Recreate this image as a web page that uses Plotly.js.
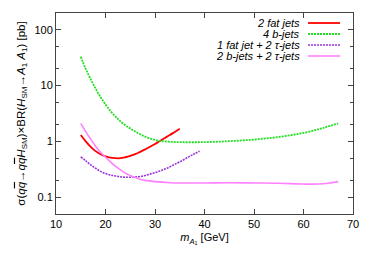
<!DOCTYPE html>
<html><head><meta charset="utf-8">
<script src="https://cdn.plot.ly/plotly-3.0.1.min.js"></script>
<style>html,body{margin:0;padding:0;background:#fff}#c{width:374px;height:262px}</style>
</head><body><div id="c"></div>
<script>
var seriesNames = ['2 fat jets', '4 b-jets', '1 fat jet + 2 τ-jets', '2 b-jets + 2 τ-jets'];
var seriesColors = ['#ff0000', '#22dd22', '#9933dd', '#ff80ff'];

var fatX = [15,16,17,18,19,20,21,22,23,24,25,26,27,28,29,30,31,32,33,34,35];
var fatY = [1.3,1.0,0.8,0.67,0.59,0.54,0.51,0.5,0.5,0.52,0.55,0.59,0.65,0.72,0.8,0.9,1.02,1.15,1.3,1.48,1.68];

var bX = [15,16,17,18,19,20,21,22,23,24,26,28,30,32,35,40,45,50,55,60,64,67];
var bY = [33,20,13,8.8,6.2,4.6,3.5,2.8,2.3,1.95,1.5,1.22,1.06,1.0,0.97,0.97,1.01,1.08,1.2,1.42,1.75,2.1];

var fatTauX = [15,16,17,18,19,20,21,22,23,24,25,26,27,28,29,30,31,32,33,34,35,36,37,38,39];
var fatTauY = [0.53,0.45,0.38,0.33,0.29,0.265,0.25,0.24,0.232,0.228,0.228,0.23,0.235,0.245,0.26,0.275,0.295,0.32,0.35,0.39,0.43,0.48,0.54,0.6,0.67];

var bTauX = [15,16,17,18,19,20,21,22,23,24,25,26,27,28,30,33,36,40,45,50,55,60,63,65,67];
var bTauY = [2.1,1.5,1.1,0.82,0.64,0.52,0.43,0.36,0.31,0.27,0.245,0.225,0.21,0.2,0.19,0.182,0.18,0.18,0.182,0.18,0.178,0.172,0.172,0.178,0.19];

var xTicks = [10,20,30,40,50,60,70];
var yTicks = [0.1,1,10,100];
var yTickText = ['0.1','1','10','100'];
var yMinor = [0.05,0.2,0.5,2,5,20,50,200];

var dashes = ['solid','2px,1px','2px,1px','solid'];
var widths = [1.8,1.8,1.6,1.6];
var xs = [fatX,bX,fatTauX,bTauX], ys = [fatY,bY,fatTauY,bTauY];
var traces = xs.map(function(x,i){
  return {x:x, y:ys[i], type:'scatter', mode:'lines', name:seriesNames[i],
    line:{color:seriesColors[i], width:widths[i], dash:dashes[i], shape:'spline'}, showlegend:false};
});

var font = {family:'Liberation Sans, Arial, sans-serif', size:11, color:'#000'};
var annotations = [], shapes = [];
var rowY = [23,34,45,56];
seriesNames.forEach(function(n,i){
  var yp = 1 - (rowY[i]-13)/201;
  annotations.push({xref:'paper', yref:'paper', x:(302-56)/297, y:yp, xanchor:'right', yanchor:'middle',
    text:'<i>'+n+'</i>', showarrow:false, font:{family:font.family, size:11, color:'#000'}});
  shapes.push({type:'line', xref:'paper', yref:'paper', x0:(308-56)/297, x1:(340-56)/297, y0:yp, y1:yp,
    line:{color:seriesColors[i], width:widths[i], dash:dashes[i]}});
});

var qb = '<span style="text-decoration:overline">q</span>';
var layout = {
  width:374, height:262,
  margin:{l:56, r:21, t:13, b:48},
  paper_bgcolor:'#fff', plot_bgcolor:'#fff',
  font:font,
  showlegend:false,
  xaxis:{range:[10,70], tickvals:xTicks, ticks:'inside', ticklen:5, tickcolor:'#444',
    showline:true, linecolor:'#444', linewidth:1, mirror:'ticks', showgrid:false, zeroline:false,
    tickfont:font,
    title:{text:'<i>m</i><sub><i>A</i><sub>1</sub></sub> [GeV]', font:font, standoff:4}},
  yaxis:{type:'log', range:[Math.log10(0.05), Math.log10(200)], tickvals:yTicks, ticktext:yTickText,
    ticks:'inside', ticklen:5, tickcolor:'#444',
    minor:{tickvals:yMinor, ticks:'inside', ticklen:3, tickcolor:'#444', showgrid:false},
    showline:true, linecolor:'#444', linewidth:1, mirror:'ticks', showgrid:false, zeroline:false,
    tickfont:font,
    title:{text:'σ(<i>q</i><i>'+qb+'</i>→<i>q</i><i>'+qb+'</i><i>H</i><sub>SM</sub>)×BR(<i>H</i><sub>SM</sub>→<i>A</i><sub>1</sub> <i>A</i><sub>1</sub>) [pb]', font:{family:font.family, size:11.5, color:'#000'}, standoff:6}},
  annotations:annotations,
  shapes:shapes
};
Plotly.newPlot('c', traces, layout, {staticPlot:true, displayModeBar:false});
</script></body></html>
